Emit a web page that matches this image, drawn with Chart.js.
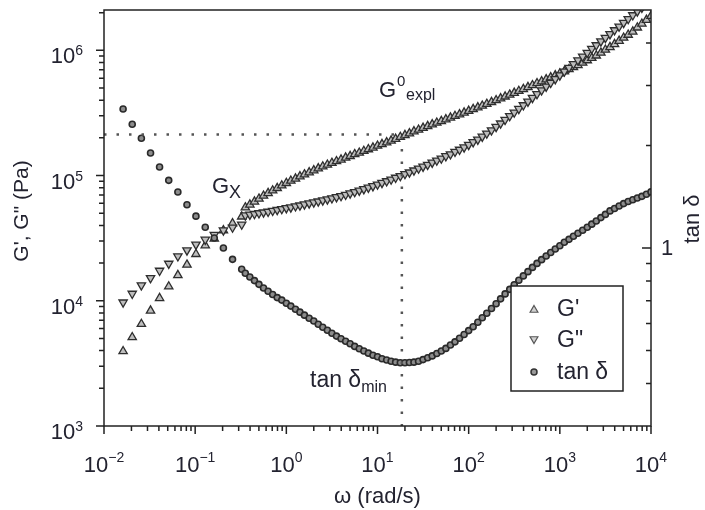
<!DOCTYPE html>
<html><head><meta charset="utf-8">
<script src="https://cdn.jsdelivr.net/npm/chart.js@4.4.1/dist/chart.umd.min.js"></script>
<style>html,body{margin:0;padding:0;background:#fff}canvas{display:block}</style>
</head><body>
<canvas id="c" width="705" height="510"></canvas>
<script>
// ---------- data ----------
const omega = [0.0162,0.0204,0.0257,0.0324,0.0407,0.0513,0.0646,0.0813,0.102,0.129,0.162,0.204,0.257,0.324,
0.355,0.398,0.447,0.501,0.562,0.631,0.708,0.794,0.891,
1.00,1.12,1.26,1.41,1.58,1.78,2.00,2.24,2.51,2.82,3.16,3.55,3.98,4.47,5.01,5.62,6.31,7.08,7.94,8.91,
10.0,11.2,12.6,14.1,15.8,17.8,20.0,22.4,25.1,28.2,31.6,35.5,39.8,44.7,50.1,56.2,63.1,70.8,79.4,89.1,
100,112,126,141,158,178,200,224,251,282,316,355,398,447,501,562,631,708,794,891,
1000,1120,1260,1410,1580,1780,2000,2240,2510,2820,3160,3550,3980,4470,5010,5620,6310,7080,7940,8910,
10000];
const gPrime = [3950,5110,6520,8340,10500,13000,16000,19400,23600,27700,31300,36500,41500,47000,
55600,58600,61900,65300,68900,72400,75900,79400,83200,
87100,90800,94400,98400,102000,106000,110000,114000,118000,122000,126000,130000,134000,139000,143000,148000,152000,157000,162000,167000,
173000,178000,184000,190000,196000,203000,210000,217000,225000,232000,240000,248000,256000,264000,272000,281000,290000,299000,308000,318000,
328000,339000,350000,361000,373000,386000,399000,413000,427000,442000,457000,473000,490000,508000,526000,546000,565000,586000,608000,630000,
653000,679000,706000,733000,762000,796000,832000,869000,908000,957000,1010000,1060000,1120000,1190000,1260000,1330000,1410000,1520000,1630000,1750000,
1880000];
const gDoublePrime = [9710,11400,13300,15200,17400,19800,22700,25300,28100,30800,33700,36500,38500,40700,
48100,48800,49400,50100,50800,51500,52400,53200,54100,
55000,55800,56900,57800,58900,60000,61100,62200,63400,64600,65900,67300,68700,70300,72100,74000,75900,78000,80200,82400,
84900,87500,90200,93100,96200,99300,103000,106000,110000,114000,118000,122000,127000,132000,137000,143000,148000,155000,161000,168000,
176000,185000,194000,205000,217000,230000,245000,261000,279000,299000,319000,341000,365000,390000,418000,448000,480000,514000,551000,590000,
632000,678000,726000,778000,834000,893000,957000,1030000,1100000,1180000,1260000,1350000,1450000,1550000,1660000,1780000,1910000,2050000,2190000,2350000,
2520000];
const tanDelta = [2.56,2.31,2.10,1.90,1.73,1.58,1.46,1.34,1.24,1.15,1.07,1.00,0.926,0.866,
0.843,0.822,0.802,0.782,0.763,0.746,0.730,0.715,0.703,
0.688,0.675,0.661,0.648,0.635,0.622,0.610,0.597,0.585,0.573,0.562,0.551,0.541,0.532,0.523,0.514,0.506,0.498,0.491,0.484,
0.479,0.473,0.469,0.465,0.462,0.460,0.460,0.461,0.462,0.465,0.470,0.476,0.482,0.490,0.498,0.507,0.519,0.530,0.543,0.557,
0.572,0.587,0.605,0.624,0.643,0.664,0.686,0.709,0.733,0.756,0.780,0.804,0.828,0.852,0.877,0.901,0.924,0.947,0.970,0.993,
1.015,1.039,1.060,1.082,1.105,1.127,1.151,1.175,1.200,1.228,1.255,1.285,1.306,1.328,1.350,1.369,1.385,1.402,1.418,1.438,
1.461];
// reference dotted lines (G0_expl at tan delta minimum)
const refLineOmega = [0.01, 18.5, 18.5];
const refLineG = [213000, 213000, 1000];
// axis ticks / labels
const xTickExps = [-2,-1,0,1,2,3,4];
const yTickExps = [3,4,5,6];
const y2MajorTicks = [1];
const y2MinorTicks = [0.4,0.5,0.6,0.7,0.8,0.9,2,3,4];
const legendLabels = ["G'", 'G"', 'tan \u03b4'];

// ---------- chart ----------
const FONT = '"Liberation Sans", Arial, Helvetica, sans-serif';
const INK = '#232330';
const pts = (ys) => omega.map((w,i)=>({x:w, y:ys[i]}));

const decor = {
  id:'decor',
  afterDraw(chart){
    const ctx = chart.ctx, a = chart.chartArea;
    const xs = chart.scales.x, ys = chart.scales.y, y2 = chart.scales.y2;
    ctx.save();
    ctx.strokeStyle = '#222'; ctx.lineWidth = 1.5;
    ctx.strokeRect(a.left, a.top, a.right-a.left, a.bottom-a.top);
    ctx.beginPath();
    for (let e=yTickExps[0]; e<=yTickExps[yTickExps.length-1]; e++){
      for (let m=1;m<=9;m++){
        const v=m*Math.pow(10,e); if (v>ys.max) break;
        const p=ys.getPixelForValue(v), len=(m===1)?8:5;
        ctx.moveTo(a.left-len,p); ctx.lineTo(a.left,p);
      }
    }
    for (let e=xTickExps[0]; e<=xTickExps[xTickExps.length-1]; e++){
      for (let m=1;m<=9;m++){
        const v=m*Math.pow(10,e); if (v>xs.max*1.0001) break;
        const p=xs.getPixelForValue(v), len=(m===1)?8:5;
        ctx.moveTo(p,a.bottom); ctx.lineTo(p,a.bottom+len);
      }
    }
    y2MajorTicks.forEach(v=>{const p=y2.getPixelForValue(v); ctx.moveTo(a.right-9,p); ctx.lineTo(a.right,p);});
    y2MinorTicks.forEach(v=>{const p=y2.getPixelForValue(v); ctx.moveTo(a.right-5,p); ctx.lineTo(a.right,p);});
    ctx.stroke();

    ctx.fillStyle = INK;
    const main = '22px '+FONT, sup = '14px '+FONT;
    ctx.textAlign='left'; ctx.textBaseline='alphabetic';
    yTickExps.forEach(e=>{
      const p=ys.getPixelForValue(Math.pow(10,e));
      ctx.font=sup; const sw=ctx.measureText(String(e)).width;
      ctx.font=main; const mw=ctx.measureText('10').width;
      const sx=83-sw;
      ctx.fillText('10', sx-mw, p+13);
      ctx.font=sup; ctx.fillText(String(e), sx, p+5);
    });
    xTickExps.forEach(e=>{
      const p=xs.getPixelForValue(Math.pow(10,e));
      const s=(e<0?'\u2212':'')+Math.abs(e);
      ctx.font=sup; const sw=ctx.measureText(s).width;
      ctx.font=main; const mw=ctx.measureText('10').width;
      const x0=p-(mw+sw)/2;
      ctx.fillText('10', x0, 472);
      ctx.font=sup; ctx.fillText(s, x0+mw, 462);
    });
    ctx.font=main; ctx.textBaseline='middle';
    y2MajorTicks.forEach(v=>{ctx.fillText(String(v), a.right+10, y2.getPixelForValue(v)+1);});
    ctx.textAlign='center';
    ctx.font='22px '+FONT;
    ctx.fillText('\u03c9 (rad/s)', (a.left+a.right)/2, 497);
    ctx.save(); ctx.translate(22, 211); ctx.rotate(-Math.PI/2);
    ctx.font='21px '+FONT; ctx.fillText('G\', G" (Pa)', 0, 0); ctx.restore();
    ctx.save(); ctx.translate(693, 219); ctx.rotate(-Math.PI/2);
    ctx.font='22px '+FONT; ctx.fillText('tan \u03b4', 0, 0); ctx.restore();

    ctx.textAlign='left'; ctx.textBaseline='alphabetic';
    ctx.font='22px '+FONT; ctx.fillText('G', 379, 97);
    ctx.font='15px '+FONT; ctx.fillText('0', 397, 86);
    ctx.font='16px '+FONT; ctx.fillText('expl', 406, 100);
    ctx.font='22px '+FONT; ctx.fillText('G', 212, 193);
    ctx.font='18px '+FONT; ctx.fillText('X', 229, 198);
    ctx.font='23px '+FONT; ctx.fillText('tan \u03b4', 310, 387);
    const tw=ctx.measureText('tan \u03b4').width;
    ctx.font='16px '+FONT; ctx.fillText('min', 310+tw, 392);

    ctx.fillStyle='#fff'; ctx.fillRect(511,286,112,105);
    ctx.strokeStyle='#222'; ctx.lineWidth=1.5; ctx.strokeRect(511,286,112,105);
    const ly=[309,340,372], lx=534;
    ctx.lineWidth=1.2; ctx.strokeStyle='#555'; ctx.fillStyle='#d0d0d0';
    const tri=(x,y,r,down)=>{ctx.beginPath();const s=down?-1:1;
      ctx.moveTo(x,y-s*r); ctx.lineTo(x+r*0.866,y+s*r*0.5); ctx.lineTo(x-r*0.866,y+s*r*0.5); ctx.closePath(); ctx.fill(); ctx.stroke();};
    tri(lx,ly[0]+1,4.5,false); tri(lx,ly[1]-1,4.5,true);
    ctx.beginPath(); ctx.arc(lx,ly[2],3,0,Math.PI*2); ctx.fillStyle='#999'; ctx.fill(); ctx.strokeStyle='#333'; ctx.lineWidth=1.5; ctx.stroke();
    ctx.fillStyle=INK; ctx.font='23px '+FONT; ctx.textBaseline='middle';
    legendLabels.forEach((t,i)=>ctx.fillText(t, 557, ly[i]+1));
    ctx.restore();
  }
};

new Chart(document.getElementById('c'), {
  type:'scatter',
  data:{datasets:[
    {label:'ref', data: refLineOmega.map((w,i)=>({x:w,y:refLineG[i]})), yAxisID:'y', showLine:true,
     borderColor:'#555', borderWidth:2.5, borderDash:[2.5,10], pointRadius:0, fill:false},
    {label:legendLabels[2], data: pts(tanDelta), yAxisID:'y2', pointStyle:'circle', pointRadius:3,
     borderWidth:1.6, borderColor:'#2a2a2a', backgroundColor:'#8c8c8c'},
    {label:legendLabels[1], data: pts(gDoublePrime), yAxisID:'y', pointStyle:'triangle', pointRotation:180, pointRadius:4.8,
     borderWidth:1.3, borderColor:'#2e2e2e', backgroundColor:'#bdbdbd'},
    {label:legendLabels[0], data: pts(gPrime), yAxisID:'y', pointStyle:'triangle', pointRadius:4.8,
     borderWidth:1.3, borderColor:'#2e2e2e', backgroundColor:'#bdbdbd'}
  ]},
  options:{
    responsive:false, devicePixelRatio:1, animation:false,
    layout:{padding:{top:10,left:0,right:0,bottom:0}},
    plugins:{legend:{display:false}, tooltip:{enabled:false}},
    scales:{
      x:{type:'logarithmic', min:0.01, max:10000, grid:{display:false}, border:{display:false}, ticks:{display:false},
         afterFit(s){s.height=84;}},
      y:{type:'logarithmic', position:'left', min:1000, max:2.1e6, grid:{display:false}, border:{display:false}, ticks:{display:false},
         afterFit(s){s.width=104;}},
      y2:{type:'logarithmic', position:'right', min:0.3, max:5, grid:{display:false}, border:{display:false}, ticks:{display:false},
         afterFit(s){s.width=54;}}
    }
  },
  plugins:[decor]
});
</script>
</body></html>
